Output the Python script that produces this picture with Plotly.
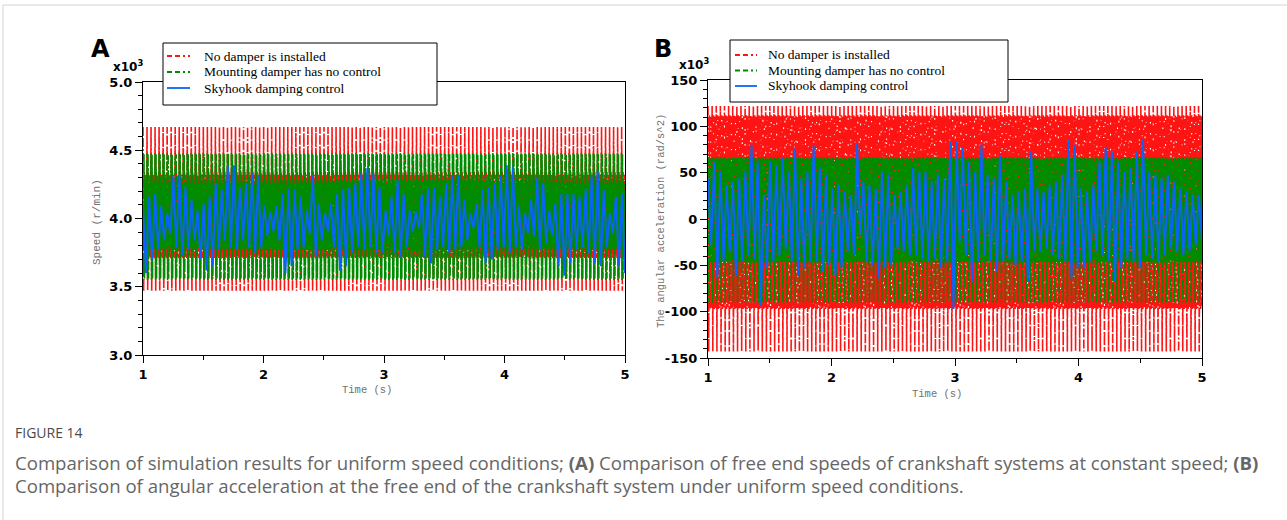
import numpy as np
import plotly.graph_objects as go

W, H = 1287, 520

# Time span of both records (s)
T_START, T_END = 1, 5

# Panel A - free end speed (x10^3 r/min)
# one oscillation cycle of each un-controlled case
red_speed_cycle = [4.67, 3.47, 4.34, 3.72, 4.32, 3.71]
green_speed_cycle = [4.48, 3.55, 4.47, 3.56, 4.28, 3.77, 4.26, 3.79]
n_cycles = 120
# skyhook control: peak / trough of each 0.05 s slice
blue_speed_hi = [4.09, 4.16, 4.18, 4.09, 4.04, 4.31, 4.32, 4.23, 4.14, 4.06,
                 4.11, 4.16, 4.26, 4.21, 4.38, 4.39, 4.23, 4.26, 4.33, 4.31,
                 4.09, 4.05, 4.09, 4.18, 4.22, 4.21, 4.16, 4.06, 4.32, 4.11,
                 4.04, 4.11, 4.18, 4.21, 4.23, 4.26, 4.33, 4.37, 4.33, 4.23,
                 4.06, 4.16, 4.28, 4.18, 4.06, 4.05, 4.18, 4.22, 4.23, 4.16,
                 4.26, 4.31, 4.32, 4.14, 4.04, 4.11, 4.21, 4.23, 4.26, 4.31,
                 4.39, 4.38, 4.09, 4.04, 4.14, 4.30, 4.26, 4.06, 4.11, 4.18,
                 4.18, 4.18, 4.16, 4.21, 4.31, 4.35, 4.21, 4.04, 4.16, 4.18]
blue_speed_lo = [3.60, 3.70, 3.77, 3.84, 3.89, 3.79, 3.73, 3.77, 3.84, 3.70,
                 3.62, 3.65, 3.77, 3.84, 3.79, 3.77, 3.84, 3.79, 3.75, 3.79,
                 3.87, 3.91, 3.84, 3.60, 3.65, 3.77, 3.79, 3.89, 3.72, 3.84,
                 3.91, 3.79, 3.62, 3.65, 3.75, 3.79, 3.77, 3.79, 3.75, 3.75,
                 3.87, 3.75, 3.72, 3.79, 3.90, 3.93, 3.72, 3.67, 3.77, 3.79,
                 3.75, 3.77, 3.79, 3.84, 3.93, 3.79, 3.67, 3.70, 3.77, 3.79,
                 3.75, 3.79, 3.77, 3.89, 3.87, 3.77, 3.82, 3.87, 3.65, 3.58,
                 3.67, 3.77, 3.79, 3.75, 3.67, 3.65, 3.79, 3.89, 3.65, 3.60]

# Panel B - angular acceleration (x10^3 rad/s^2)
red_acc_cycle = [122, -143, 112, -97, 111, -96]
green_acc_cycle = [67, -90, 66, -46, 65, -47]
blue_acc_hi = [44, 62, 51, 37, 40, 44, 51, 80, 62, 26,
               62, 58, 66, 51, 76, 44, 51, 79, 55, 48,
               33, 37, 30, 26, 81, 40, 37, 33, 51, 48,
               26, 30, 37, 55, 51, 51, 40, 48, 44, 84,
               84, 77, 62, 51, 80, 48, 44, 69, 40, 26,
               30, 33, 73, 33, 30, 37, 40, 48, 86, 80,
               33, 30, 37, 62, 77, 73, 62, 51, 55, 73,
               86, 51, 48, 44, 48, 40, 33, 30, 26, 26]
blue_acc_lo = [-28, -64, -46, -35, -61, -46, -39, -43, -93, -53,
               -46, -39, -32, -46, -61, -53, -46, -46, -57, -50,
               -61, -53, -35, -39, -17, -46, -50, -64, -53, -50,
               -32, -35, -39, -39, -43, -46, -43, -53, -46, -97,
               -25, -39, -68, -46, -39, -46, -57, -46, -43, -50,
               -46, -68, -35, -35, -32, -39, -43, -46, -64, -53,
               -53, -46, -35, -39, -46, -68, -53, -43, -46, -53,
               -39, -43, -46, -39, -32, -35, -39, -35, -28, -25]

legend_names = ["No damper is installed", "Mounting damper has no control", "Skyhook damping control"]
colors = ["#ff1414", "#008c00", "#0a64f5"]
dash_pat = "9px,2px,9px,2px,2px,2px"
legend_dash = "5px,3px,5px,3px,2px,3px"


def px(x):
    return x / W


def py(y):
    return 1 - y / H


def tiled(cycle):
    vals = cycle * n_cycles
    return np.linspace(T_START, T_END, len(vals)), vals


def zigzag(hi, lo):
    vals = [v for pair in zip(hi, lo) for v in pair]
    return np.linspace(T_START, T_END, len(vals)), vals


fig = go.Figure()

panels = [
    ("x", "y", red_speed_cycle, green_speed_cycle, blue_speed_hi, blue_speed_lo),
    ("x2", "y2", red_acc_cycle, green_acc_cycle, blue_acc_hi, blue_acc_lo),
]
for xa, ya, red_c, green_c, hi, lo in panels:
    for name, col, (tx, vy), dash, lw in [
        (legend_names[0], colors[0], tiled(red_c), dash_pat, 1.6),
        (legend_names[1], colors[1], tiled(green_c), dash_pat, 1.6),
        (legend_names[2], colors[2], zigzag(hi, lo), "solid", 2.0),
    ]:
        fig.add_trace(go.Scatter(x=tx, y=vy, mode="lines", name=name, xaxis=xa, yaxis=ya,
                                 showlegend=False, line=dict(color=col, width=lw, dash=dash)))

tickfont = dict(family="DejaVu Sans", size=13, color="black", weight="bold")
axis_common = dict(showline=True, linecolor="black", linewidth=1, mirror=True, ticks="outside",
                   ticklen=7, tickcolor="black", showgrid=False, zeroline=False, tickfont=tickfont)

fig.update_layout(
    width=W, height=H, margin=dict(l=0, r=0, t=0, b=0, autoexpand=False),
    paper_bgcolor="white", plot_bgcolor="white", showlegend=False,
    xaxis=dict(domain=[px(143), px(625)], range=[1, 5], tickvals=[1, 2, 3, 4, 5], anchor="y",
               minor=dict(dtick=0.5, ticklen=4, ticks="outside", tickcolor="black"), **axis_common),
    yaxis=dict(domain=[py(355), py(82)], range=[3, 5], dtick=0.5, tickformat=".1f", anchor="x",
               minor=dict(dtick=0.1, ticklen=4, ticks="outside", tickcolor="black"), **axis_common),
    xaxis2=dict(domain=[px(708), px(1202)], range=[1, 5], tickvals=[1, 2, 3, 4, 5], anchor="y2",
                minor=dict(dtick=0.5, ticklen=4, ticks="outside", tickcolor="black"), **axis_common),
    yaxis2=dict(domain=[py(358), py(80)], range=[-150, 150], anchor="x2",
                tickvals=[-150, -100, -50, 0, 50, 100, 150],
                ticktext=["-150", "-100", "-50", "0", "50", "100", "150"],
                minor=dict(dtick=10, ticklen=4, ticks="outside", tickcolor="black"), **axis_common),
)

shapes = [
    # page card border
    dict(type="line", x0=px(3), x1=1, y0=py(5), y1=py(5), line=dict(color="#d4d4d4", width=1)),
    dict(type="line", x0=px(3), x1=px(3), y0=py(5), y1=0, line=dict(color="#d4d4d4", width=1)),
    # legend boxes
    dict(type="rect", x0=px(163), x1=px(437), y0=py(105), y1=py(43),
         fillcolor="white", line=dict(color="black", width=1)),
    dict(type="rect", x0=px(730), x1=px(1008), y0=py(102), y1=py(40),
         fillcolor="white", line=dict(color="black", width=1)),
]

gray = "#707070"
ann = [
    dict(text="<b>A</b>", x=px(89), y=py(49), font=dict(family="DejaVu Sans", size=24, color="black")),
    dict(text="<b>B</b>", x=px(652), y=py(49), font=dict(family="DejaVu Sans", size=24, color="black")),
    dict(text="<b>x10<sup>3</sup></b>", x=px(111), y=py(66), font=dict(family="DejaVu Sans", size=12, color="black")),
    dict(text="<b>x10<sup>3</sup></b>", x=px(677), y=py(64), font=dict(family="DejaVu Sans", size=12, color="black")),
    dict(text="Speed (r/min)", x=px(97), y=py(222), xanchor="center", textangle=-90,
         font=dict(family="Liberation Mono", size=11, color=gray)),
    dict(text="Time (s)", x=px(367), y=py(390), xanchor="center",
         font=dict(family="Liberation Mono", size=10.5, color=gray)),
    dict(text="The angular acceleration (rad/s^2)", x=px(661), y=py(221), xanchor="center", textangle=-90,
         font=dict(family="Liberation Mono", size=10.5, color=gray)),
    dict(text="Time (s)", x=px(937), y=py(394), xanchor="center",
         font=dict(family="Liberation Mono", size=10.5, color=gray)),
    dict(text="FIGURE 14", x=px(13), y=py(432), font=dict(family="Open Sans", size=14, color="#4a4a4a")),
    dict(text="Comparison of simulation results for uniform speed conditions; <b>(A)</b> Comparison of free end "
              "speeds of crankshaft systems at constant speed; <b>(B)</b>",
         x=px(13), y=py(462), font=dict(family="Open Sans", size=18.6, color="#666666")),
    dict(text="Comparison of angular acceleration at the free end of the crankshaft system under uniform "
              "speed conditions.",
         x=px(13), y=py(485), font=dict(family="Open Sans", size=18.6, color="#666666")),
]

# hand-drawn legends (row spacing of the original is tighter than plotly's)
legend_rows = [(167, 190, 202, [56, 72, 88]), (735, 757, 766, [55, 70.5, 86])]
for x0, x1, xt, rows in legend_rows:
    for name, col, yrow, dash in zip(legend_names, colors, rows, [legend_dash, legend_dash, "solid"]):
        shapes.append(dict(type="line", x0=px(x0), x1=px(x1), y0=py(yrow), y1=py(yrow),
                           line=dict(color=col, width=1.8, dash=dash)))
        ann.append(dict(text=name, x=px(xt), y=py(yrow),
                        font=dict(family="Liberation Serif", size=13.5, color="black")))

for s in shapes:
    s.update(xref="paper", yref="paper", layer="above")
for a in ann:
    a.setdefault("xanchor", "left")
    a.update(xref="paper", yref="paper", yanchor="middle", showarrow=False)
fig.update_layout(shapes=shapes, annotations=ann)

# drop the browser's default 8px body margin so the page lines up with the figure
fig.write_html("out.html", config={"displayModeBar": False},
               post_script="document.body.style.margin = '0';")
